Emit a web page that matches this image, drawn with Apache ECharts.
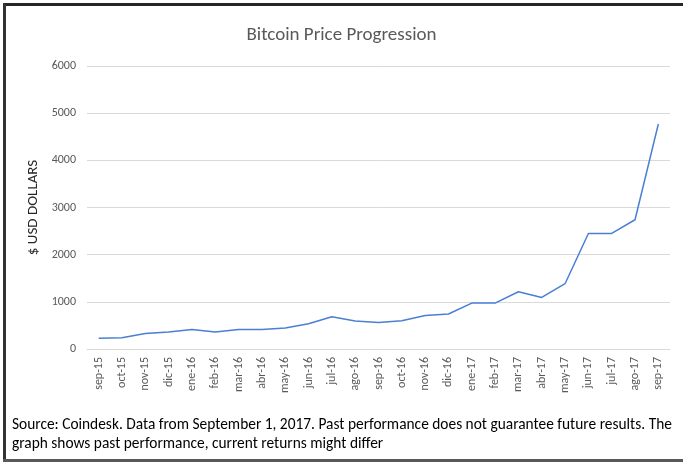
<!DOCTYPE html>
<html>
<head>
<meta charset="utf-8">
<script src="https://cdn.jsdelivr.net/npm/echarts@6/dist/echarts.min.js"></script>
<style>
  html, body { margin: 0; padding: 0; background: #fff; }
  #chart { width: 683px; height: 462px; }
</style>
</head>
<body>
<div id="chart"></div>
<script>
const months = [
  'sep-15', 'oct-15', 'nov-15', 'dic-15', 'ene-16', 'feb-16', 'mar-16', 'abr-16', 'may-16',
  'jun-16', 'jul-16', 'ago-16', 'sep-16', 'oct-16', 'nov-16', 'dic-16', 'ene-17', 'feb-17',
  'mar-17', 'abr-17', 'may-17', 'jun-17', 'jul-17', 'ago-17', 'sep-17'
];
const prices = [
  226, 240, 330, 360, 415, 360, 415, 415, 445,
  535, 683, 592, 560, 600, 712, 741, 974, 974,
  1214, 1094, 1384, 2450, 2450, 2740, 4770
];
const titleText = 'Bitcoin Price Progression';
const yAxisName = '$ USD DOLLARS';
const sourceNote = 'Source: Coindesk. Data from September 1, 2017. Past performance does not guarantee future results. The\ngraph shows past performance, current returns might differ';

const font = 'Carlito, "Liberation Sans Narrow", "Open Sans", sans-serif';

const chart = echarts.init(document.getElementById('chart'));

chart.setOption({
  animation: false,
  title: {
    text: titleText,
    left: 'center',
    top: 21,
    textStyle: { fontFamily: font, fontSize: 19, fontWeight: 'normal', color: '#595959' }
  },
  grid: { left: 87, right: 13, top: 66, bottom: 113 },
  xAxis: {
    type: 'category',
    data: months,
    boundaryGap: true,
    axisLine: { lineStyle: { color: '#d9d9d9', width: 1 } },
    axisTick: { show: false },
    axisLabel: {
      rotate: 90,
      interval: 0,
      margin: 8,
      fontFamily: font,
      fontSize: 12,
      color: '#595959'
    }
  },
  yAxis: {
    type: 'value',
    min: 0,
    max: 6000,
    interval: 1000,
    name: yAxisName,
    nameLocation: 'middle',
    nameGap: 38,
    nameTextStyle: { fontFamily: font, fontSize: 15, color: '#262626' },
    axisLine: { show: false },
    axisTick: { show: false },
    axisLabel: {
      margin: 11,
      fontFamily: font,
      fontSize: 12,
      color: '#595959',
      formatter: (v) => String(v)
    },
    splitLine: { lineStyle: { color: '#d9d9d9', width: 1 } }
  },
  series: [{
    type: 'line',
    data: prices,
    symbol: 'none',
    lineStyle: { color: '#4a7fd4', width: 1.5 }
  }],
  graphic: [
    { type: 'rect', shape: { x: 3, y: 3, width: 683, height: 3 }, style: { fill: '#262626' } },
    { type: 'rect', shape: { x: 3, y: 3, width: 3, height: 459 }, style: { fill: '#333333' } },
    { type: 'rect', shape: { x: 3, y: 459, width: 683, height: 3 }, style: { fill: '#595959' } },
    {
      type: 'text',
      left: 12,
      top: 416,
      style: {
        text: sourceNote,
        fontFamily: font,
        fontSize: 15.4,
        lineHeight: 19,
        fill: '#000'
      }
    }
  ]
});
</script>
</body>
</html>
